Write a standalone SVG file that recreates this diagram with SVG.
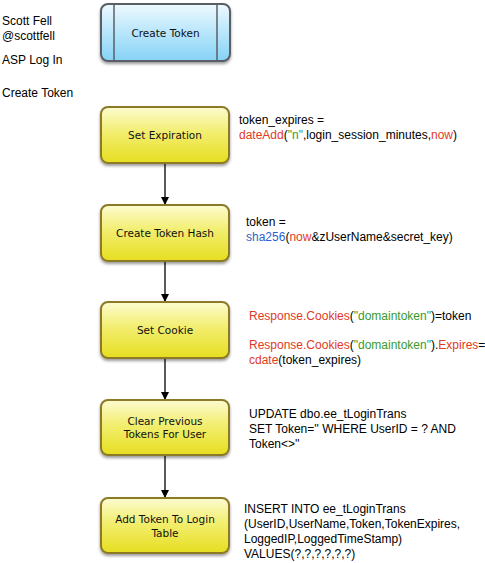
<svg xmlns="http://www.w3.org/2000/svg" width="485" height="563" viewBox="0 0 485 563">
<defs>
<linearGradient id="gy" x1="0" y1="0" x2="0" y2="1">
<stop offset="0" stop-color="#fdfbd0"/>
<stop offset="0.45" stop-color="#f2ee70"/>
<stop offset="1" stop-color="#e6de20"/>
</linearGradient>
<linearGradient id="gb" x1="0" y1="0" x2="0" y2="1">
<stop offset="0" stop-color="#eef9fe"/>
<stop offset="0.5" stop-color="#b8e6fb"/>
<stop offset="1" stop-color="#86d2f6"/>
</linearGradient>
<filter id="sh" x="-10%" y="-10%" width="130%" height="130%">
<feGaussianBlur in="SourceAlpha" stdDeviation="1.5"/>
<feOffset dx="0" dy="2" result="b"/>
<feComponentTransfer><feFuncA type="linear" slope="0.4"/></feComponentTransfer>
<feMerge><feMergeNode/><feMergeNode in="SourceGraphic"/></feMerge>
</filter>
<marker id="ah" markerWidth="8" markerHeight="8" refX="7" refY="4" orient="auto" markerUnits="userSpaceOnUse">
<path d="M0,0 L8,4 L0,8 z" fill="#000"/>
</marker>
</defs>
<style>
.note{font-family:"Liberation Sans",Arial,sans-serif;font-size:12px;fill:#000}
.lbl{font-family:"DejaVu Sans",sans-serif;font-size:10.5px;fill:#111;text-anchor:middle}
.yb{fill:url(#gy);stroke:#8c7a28;stroke-width:2;filter:url(#sh)}
.bb{fill:url(#gb);stroke:#5a5f66;stroke-width:2;filter:url(#sh)}
.r{fill:#e0391f}
.g{fill:#3b9a2d}
.b{fill:#2d5fcf}
.conn{stroke:#000;stroke-width:1.3;fill:none;marker-end:url(#ah)}
</style>
<g id="credits">
<text class="note" x="2" y="25">Scott Fell</text>
<text class="note" x="2" y="40">@scottfell</text>
<text class="note" x="2" y="64">ASP Log In</text>
<text class="note" x="2" y="97">Create Token</text>
</g>
<g id="connectors">
<line class="conn" x1="165" y1="164" x2="165" y2="204"/>
<line class="conn" x1="165" y1="262" x2="165" y2="301"/>
<line class="conn" x1="165" y1="359" x2="165" y2="399"/>
<line class="conn" x1="165" y1="456" x2="165" y2="497"/>
</g>
<g id="create-token">
<rect class="bb" x="101" y="4" width="129" height="57" rx="7"/>
<line x1="114" y1="5" x2="114" y2="60" stroke="#5a5f66" stroke-width="1.5"/>
<line x1="217" y1="5" x2="217" y2="60" stroke="#5a5f66" stroke-width="1.5"/>
<text class="lbl" x="165.5" y="37">Create Token</text>
</g>
<g id="set-expiration">
<rect class="yb" x="101" y="107" width="128" height="56" rx="7"/>
<text class="lbl" x="165" y="139">Set Expiration</text>
</g>
<g id="set-expiration-note">
<text class="note" x="239" y="124">token_expires =</text>
<text class="note" x="239" y="139"><tspan class="r">dateAdd</tspan>(<tspan class="g">"n"</tspan>,login_session_minutes,<tspan class="r">now</tspan>)</text>
</g>
<g id="create-token-hash">
<rect class="yb" x="101" y="205" width="128" height="56" rx="7"/>
<text class="lbl" x="165" y="237">Create Token Hash</text>
</g>
<g id="create-token-hash-note">
<text class="note" x="246" y="226">token =</text>
<text class="note" x="246" y="241"><tspan class="b">sha256</tspan>(<tspan class="r">now</tspan>&amp;zUserName&amp;secret_key)</text>
</g>
<g id="set-cookie">
<rect class="yb" x="101" y="302" width="128" height="56" rx="7"/>
<text class="lbl" x="165" y="334">Set Cookie</text>
</g>
<g id="set-cookie-note">
<text class="note" x="249" y="320"><tspan class="r">Response.Cookies</tspan>(<tspan class="g">"domaintoken"</tspan>)=token</text>
<text class="note" x="249" y="349"><tspan class="r">Response.Cookies</tspan>(<tspan class="g">"domaintoken"</tspan>).<tspan class="r">Expires</tspan>=</text>
<text class="note" x="249" y="364"><tspan class="r">cdate</tspan>(token_expires)</text>
</g>
<g id="clear-previous">
<rect class="yb" x="101" y="400" width="128" height="55" rx="7"/>
<text class="lbl" x="165" y="425">Clear Previous</text>
<text class="lbl" x="165" y="438">Tokens For User</text>
</g>
<g id="clear-previous-note">
<text class="note" x="249" y="418">UPDATE dbo.ee_tLoginTrans</text>
<text class="note" x="249" y="433">SET Token='' WHERE UserID = ? AND</text>
<text class="note" x="249" y="448">Token&lt;&gt;''</text>
</g>
<g id="add-token">
<rect class="yb" x="101" y="498" width="128" height="55" rx="7"/>
<text class="lbl" x="165" y="523">Add Token To Login</text>
<text class="lbl" x="165" y="537">Table</text>
</g>
<g id="add-token-note">
<text class="note" x="244" y="513">INSERT INTO  ee_tLoginTrans</text>
<text class="note" x="244" y="528">(UserID,UserName,Token,TokenExpires,</text>
<text class="note" x="244" y="543">LoggedIP,LoggedTimeStamp)</text>
<text class="note" x="244" y="558">VALUES(?,?,?,?,?,?)</text>
</g>
</svg>
